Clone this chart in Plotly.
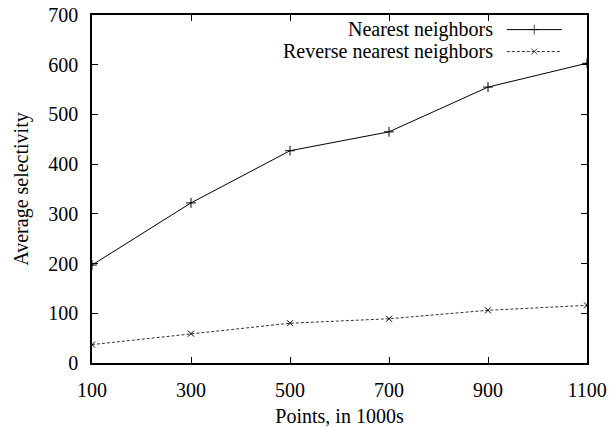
import plotly.graph_objects as go

points = [100, 300, 500, 700, 900, 1100]
nearest = [197, 322, 427, 465, 555, 603]
reverse = [37, 59, 80, 89, 106, 116]
x_ticks = [100, 300, 500, 700, 900, 1100]
y_ticks = [0, 100, 200, 300, 400, 500, 600, 700]
names = ["Nearest neighbors", "Reverse nearest neighbors"]

FONT = "Liberation Serif, Times New Roman, Times, serif"

fig = go.Figure()
fig.add_trace(go.Scatter(
    x=points, y=nearest, mode="lines+markers", name=names[0],
    line=dict(color="black", width=1),
    marker=dict(symbol="cross-thin", size=7, line=dict(color="black", width=1)),
    showlegend=False))
fig.add_trace(go.Scatter(
    x=points, y=reverse, mode="lines+markers", name=names[1],
    line=dict(color="#333333", width=1, dash="3px,2px"),
    marker=dict(symbol="x-thin", size=6, line=dict(color="black", width=1)),
    showlegend=False))

# legend samples (on a hidden overlay axis in plot-fraction units)
leg_x = [0.838, 0.8935, 0.949]
leg_y = [0.958, 0.895]
leg_styles = [
    (dict(color="black", width=1), "cross-thin", 7),
    (dict(color="#333333", width=1, dash="3px,2px"), "x-thin", 6),
]
for i, (ln, sym, sz) in enumerate(leg_styles):
    fig.add_trace(go.Scatter(
        x=leg_x, y=[leg_y[i]] * 3, xaxis="x2", yaxis="y2", mode="lines+markers",
        line=ln, marker=dict(symbol=sym, size=[0, sz, 0], line=dict(color="black", width=1)),
        showlegend=False, hoverinfo="skip"))
    fig.add_annotation(
        x=0.812, y=leg_y[i], xref="paper", yref="paper", text=names[i],
        showarrow=False, xanchor="right", yanchor="middle", borderpad=0,
        font=dict(family=FONT, size=20, color="black"))

axis_common = dict(
    showgrid=False, zeroline=False, showline=True, linecolor="black", linewidth=1.5,
    mirror="allticks", ticks="inside", ticklen=6, tickwidth=1, tickcolor="black",
    tickfont=dict(family=FONT, size=20, color="black"), automargin=False,
)
fig.update_layout(
    width=613, height=427,
    margin=dict(l=92, r=26, t=15, b=64),
    plot_bgcolor="white", paper_bgcolor="white",
    showlegend=False,
    xaxis=dict(range=[100, 1100], tickvals=x_ticks, ticklabelstandoff=8,
               title=dict(text="Points, in 1000s", font=dict(family=FONT, size=20, color="black"),
                          standoff=10),
               **axis_common),
    yaxis=dict(range=[0, 700], tickvals=y_ticks, ticklabelstandoff=8,
               title=dict(text="Average selectivity", font=dict(family=FONT, size=20, color="black"),
                          standoff=14),
               **axis_common),
    xaxis2=dict(range=[0, 1], overlaying="x", visible=False),
    yaxis2=dict(range=[0, 1], overlaying="y", visible=False),
    font=dict(family=FONT, size=20, color="black"),
)

fig.write_html("out.html", config={"displayModeBar": False},
               post_script="document.body.style.margin='0';document.body.style.overflow='hidden';")
